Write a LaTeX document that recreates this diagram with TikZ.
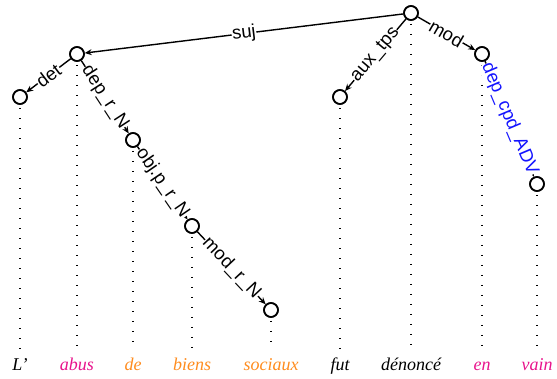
\documentclass[tikz,border=0pt]{standalone}
\usepackage{fontspec}
\setmainfont{Liberation Serif}
\newfontfamily\labfont{Liberation Sans}
\usetikzlibrary{arrows.meta}
\definecolor{wmag}{RGB}{232,20,140}
\definecolor{wora}{RGB}{255,140,30}
\definecolor{lblue}{RGB}{20,20,255}
\tikzset{
  tok/.style={circle,draw,line width=1.6pt,minimum size=14pt,inner sep=0pt,fill=white},
  edge/.style={line width=1.4pt,-{Stealth[length=7pt,width=6pt]}},
  lab/.style={sloped,fill=white,inner sep=0.5pt,font=\labfont\fontsize{18.5}{20}\selectfont},
  word/.style={anchor=base,inner sep=0pt,font=\itshape\fontsize{18}{20}\selectfont},
  guide/.style={line width=1.4pt,dash pattern=on 1.4pt off 8.6pt}
}
\begin{document}
\begin{tikzpicture}[x=1pt,y=-1pt]
\useasboundingbox (0,0) rectangle (557,378);
\coordinate (dotend) at (0,350);
% token nodes
\node[tok] (nL) at (20,97) {};
\node[tok] (nabus) at (77,54) {};
\node[tok] (nde) at (133,140) {};
\node[tok] (nbiens) at (192,226) {};
\node[tok] (nsoc) at (271,310) {};
\node[tok] (nfut) at (340,97) {};
\node[tok] (nroot) at (411,13) {};
\node[tok] (nen) at (482,54) {};
\node[tok] (nvain) at (537,184) {};
% guides
\foreach \n in {nL,nabus,nde,nbiens,nsoc,nfut,nroot,nen,nvain}
  \draw[guide] ([yshift=-3pt]\n.south) -- (\n.south |- dotend);
% words
\node[word] (wL) at (20,370) {L’};
\node[word,text=wmag] (wabus) at (77,370) {abus};
\node[word,text=wora] (wde) at (133,370) {de};
\node[word,text=wora] (wbiens) at (192,370) {biens};
\node[word,text=wora] (wsoc) at (271,370) {sociaux};
\node[word] (wfut) at (340,370) {fut};
\node[word] (wroot) at (411,370) {dénoncé};
\node[word,text=wmag] (wen) at (482,370) {en};
\node[word,text=wmag] (wvain) at (537,370) {vain};
% edges
\draw[edge] (nroot) -- node[lab]{suj} (nabus);
\draw[edge] (nabus) -- node[lab]{det} (nL);
\draw[edge] (nabus) -- node[lab]{dep\_r\_N} (nde);
\draw[edge] (nde) -- node[lab]{obj.p\_r\_N} (nbiens);
\draw[edge] (nbiens) -- node[lab]{mod\_r\_N} (nsoc);
\draw[edge] (nroot) -- node[lab]{aux\_tps} (nfut);
\draw[edge] (nroot) -- node[lab]{mod} (nen);
\draw[edge] (nen) -- node[lab,text=lblue]{dep\_cpd\_ADV} (nvain);
% redraw circles on top
\foreach \n in {nL,nabus,nde,nbiens,nsoc,nfut,nroot,nen,nvain}
  \draw[line width=1.6pt] (\n) circle (7pt);
\end{tikzpicture}
\end{document}
